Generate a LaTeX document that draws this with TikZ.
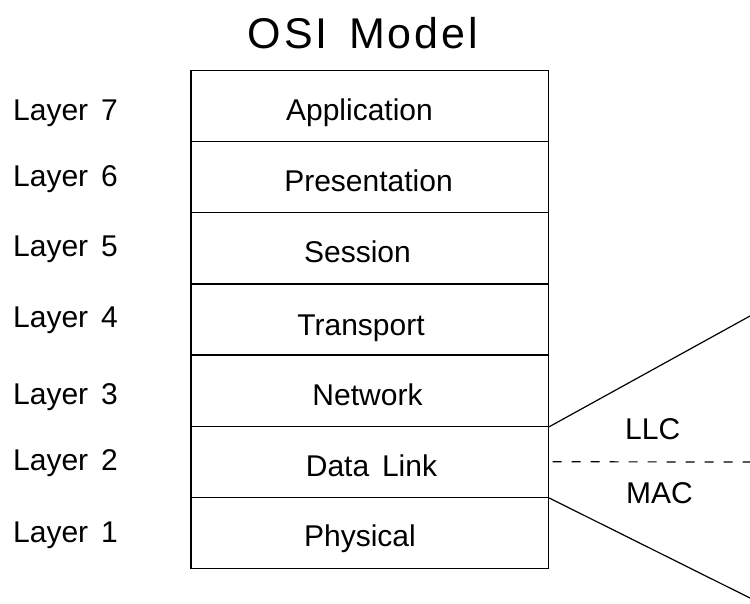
\documentclass[tikz,border=0pt]{standalone}
\usepackage{fontspec}
\setmainfont{Liberation Sans}
\begin{document}
\begin{tikzpicture}[x=1pt,y=-1pt,
  layerbox/.style={draw,line width=1.2pt,minimum width=357.5pt,minimum height=71.14pt,inner sep=0pt},
  boxtext/.style={anchor=base,inner sep=0pt,font=\fontsize{30}{34}\selectfont},
  lbl/.style={anchor=base west,inner sep=0pt,font=\fontsize{30}{34}\selectfont},
  conn/.style={line width=1.2pt}]
\useasboundingbox (0,0) rectangle (750,603);
\node[font=\fontsize{43}{48}\selectfont\addfontfeature{LetterSpace=7},inner sep=0pt,anchor=base] (title) at (363,48) {OSI\hspace{0.15em} Model};
\node[layerbox] (l7) at (369.75,106.07) {};
\node[layerbox] (l6) at (369.75,177.21) {};
\node[layerbox] (l5) at (369.75,248.35) {};
\node[layerbox] (l4) at (369.75,319.49) {};
\node[layerbox] (l3) at (369.75,390.63) {};
\node[layerbox] (l2) at (369.75,461.77) {};
\node[layerbox] (l1) at (369.75,532.91) {};
\node[boxtext] (n7) at (359.5,120) {Application};
\node[boxtext] (n6) at (368.5,191.7) {Presentation};
\node[boxtext] (n5) at (357.5,262.7) {Session};
\node[boxtext] (n4) at (361,335) {Transport};
\node[boxtext] (n3) at (367.5,405) {Network};
\node[boxtext] (n2) at (371.5,476.7) {Data\hspace{0.15em} Link};
\node[boxtext] (n1) at (360,546.7) {Physical};
\node[lbl] (t7) at (13,120.5) {Layer\hspace{0.15em} 7};
\node[lbl] (t6) at (13,186.5) {Layer\hspace{0.15em} 6};
\node[lbl] (t5) at (13,256.5) {Layer\hspace{0.15em} 5};
\node[lbl] (t4) at (13,327) {Layer\hspace{0.15em} 4};
\node[lbl] (t3) at (13,404) {Layer\hspace{0.15em} 3};
\node[lbl] (t2) at (13,470) {Layer\hspace{0.15em} 2};
\node[lbl] (t1) at (13,542) {Layer\hspace{0.15em} 1};
\coordinate (e1) at (750,316);
\coordinate (e2) at (750,462);
\coordinate (e3) at (750,598);
\draw[conn] (l3.south east) -- (e1);
\draw[conn,dash pattern=on 9pt off 10pt] ([xshift=3.5pt]l2.east) -- (e2);
\draw[conn] (l2.south east) -- (e3);
\node[lbl] (llc) at (625,439) {LLC};
\node[lbl] (mac) at (626,503) {MAC};
\end{tikzpicture}
\end{document}
